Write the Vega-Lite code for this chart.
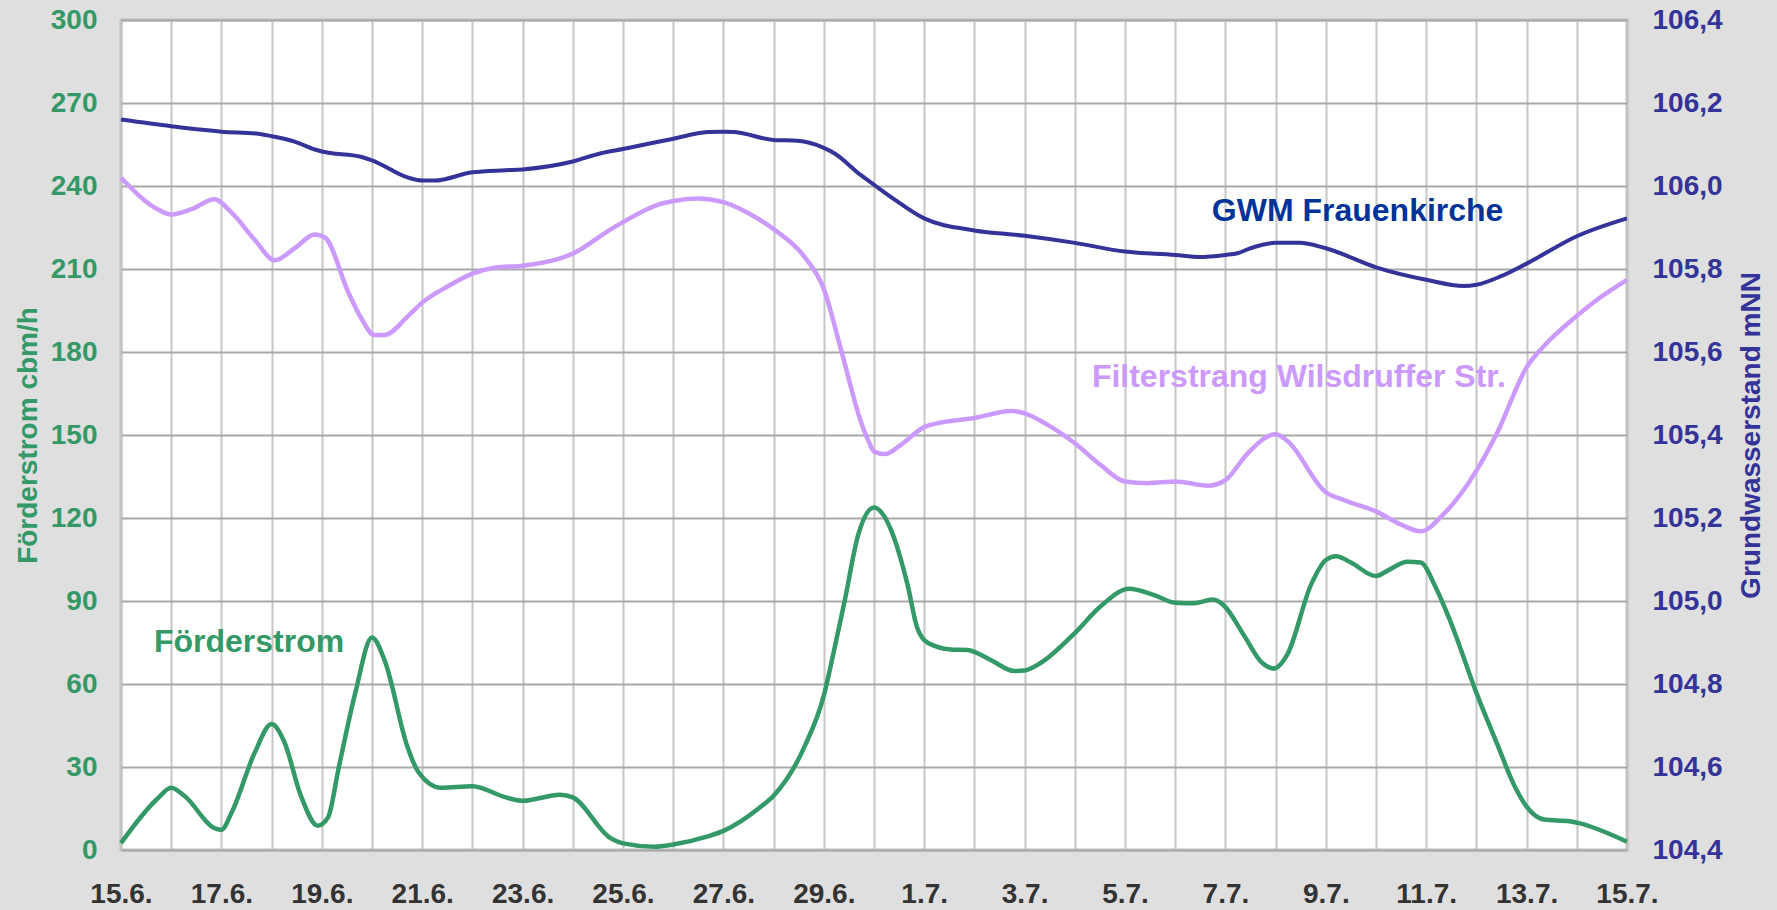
{
  "$schema": "https://vega.github.io/schema/vega-lite/v6.json",
  "width": 1506,
  "height": 830,
  "autosize": {"type": "none"},
  "padding": {"left": 121, "top": 20, "right": 150, "bottom": 60},
  "background": "#DFDFDF",
  "config": {
    "view": {"fill": "white", "stroke": "#C0C0C0", "strokeWidth": 3},
    "font": "Liberation Sans"
  },
  "datasets": {
    "series": [
      {"s": "F", "t": "2009-06-15T00:00", "v": 2.5},
      {"s": "F", "t": "2009-06-15T17:30", "v": 18.6},
      {"s": "F", "t": "2009-06-16T00:00", "v": 22.5},
      {"s": "F", "t": "2009-06-16T06:15", "v": 19.6},
      {"s": "F", "t": "2009-06-16T21:00", "v": 7.8},
      {"s": "F", "t": "2009-06-17T00:00", "v": 7.3},
      {"s": "F", "t": "2009-06-17T05:00", "v": 13.7},
      {"s": "F", "t": "2009-06-17T16:00", "v": 35.3},
      {"s": "F", "t": "2009-06-18T00:00", "v": 45.5},
      {"s": "F", "t": "2009-06-18T06:00", "v": 39.2},
      {"s": "F", "t": "2009-06-18T14:00", "v": 19.6},
      {"s": "F", "t": "2009-06-18T22:00", "v": 8.8},
      {"s": "F", "t": "2009-06-19T03:00", "v": 11.8},
      {"s": "F", "t": "2009-06-19T08:00", "v": 29.4},
      {"s": "F", "t": "2009-06-19T16:00", "v": 56.8},
      {"s": "F", "t": "2009-06-20T00:00", "v": 76.8},
      {"s": "F", "t": "2009-06-20T06:00", "v": 68.6},
      {"s": "F", "t": "2009-06-20T17:00", "v": 37.2},
      {"s": "F", "t": "2009-06-20T22:00", "v": 28.4},
      {"s": "F", "t": "2009-06-21T09:00", "v": 22.5},
      {"s": "F", "t": "2009-06-22T00:00", "v": 23.0},
      {"s": "F", "t": "2009-06-22T16:00", "v": 19.0},
      {"s": "F", "t": "2009-06-23T00:00", "v": 17.8},
      {"s": "F", "t": "2009-06-23T18:00", "v": 20.0},
      {"s": "F", "t": "2009-06-24T00:00", "v": 19.0},
      {"s": "F", "t": "2009-06-24T18:00", "v": 4.3},
      {"s": "F", "t": "2009-06-25T00:00", "v": 2.4},
      {"s": "F", "t": "2009-06-25T15:00", "v": 1.2},
      {"s": "F", "t": "2009-06-26T00:00", "v": 2.0},
      {"s": "F", "t": "2009-06-26T16:30", "v": 4.9},
      {"s": "F", "t": "2009-06-27T00:00", "v": 6.9},
      {"s": "F", "t": "2009-06-27T18:00", "v": 15.7},
      {"s": "F", "t": "2009-06-28T00:00", "v": 19.6},
      {"s": "F", "t": "2009-06-28T14:40", "v": 37.2},
      {"s": "F", "t": "2009-06-29T00:00", "v": 55.8},
      {"s": "F", "t": "2009-06-29T05:00", "v": 72.5},
      {"s": "F", "t": "2009-06-29T10:00", "v": 90.1},
      {"s": "F", "t": "2009-06-29T16:20", "v": 113.6},
      {"s": "F", "t": "2009-06-30T00:00", "v": 123.8},
      {"s": "F", "t": "2009-06-30T05:00", "v": 120.5},
      {"s": "F", "t": "2009-06-30T08:30", "v": 115.0},
      {"s": "F", "t": "2009-06-30T16:00", "v": 96.0},
      {"s": "F", "t": "2009-06-30T20:40", "v": 80.3},
      {"s": "F", "t": "2009-07-01T01:40", "v": 74.9},
      {"s": "F", "t": "2009-07-01T12:40", "v": 72.5},
      {"s": "F", "t": "2009-07-01T20:40", "v": 72.3},
      {"s": "F", "t": "2009-07-02T08:00", "v": 68.6},
      {"s": "F", "t": "2009-07-02T19:00", "v": 64.7},
      {"s": "F", "t": "2009-07-03T00:00", "v": 64.9},
      {"s": "F", "t": "2009-07-03T07:40", "v": 67.6},
      {"s": "F", "t": "2009-07-04T00:00", "v": 78.4},
      {"s": "F", "t": "2009-07-04T12:30", "v": 88.2},
      {"s": "F", "t": "2009-07-05T02:00", "v": 94.4},
      {"s": "F", "t": "2009-07-05T14:00", "v": 92.1},
      {"s": "F", "t": "2009-07-06T00:00", "v": 89.4},
      {"s": "F", "t": "2009-07-06T09:00", "v": 89.2},
      {"s": "F", "t": "2009-07-06T18:00", "v": 90.5},
      {"s": "F", "t": "2009-07-06T23:30", "v": 88.2},
      {"s": "F", "t": "2009-07-07T09:00", "v": 77.4},
      {"s": "F", "t": "2009-07-07T17:20", "v": 67.8},
      {"s": "F", "t": "2009-07-07T23:20", "v": 65.6},
      {"s": "F", "t": "2009-07-08T05:30", "v": 70.5},
      {"s": "F", "t": "2009-07-08T17:00", "v": 96.0},
      {"s": "F", "t": "2009-07-09T00:00", "v": 104.8},
      {"s": "F", "t": "2009-07-09T05:00", "v": 106.2},
      {"s": "F", "t": "2009-07-09T12:00", "v": 103.9},
      {"s": "F", "t": "2009-07-10T00:00", "v": 99.0},
      {"s": "F", "t": "2009-07-10T05:20", "v": 100.9},
      {"s": "F", "t": "2009-07-10T15:00", "v": 104.2},
      {"s": "F", "t": "2009-07-10T21:20", "v": 103.9},
      {"s": "F", "t": "2009-07-11T04:30", "v": 95.0},
      {"s": "F", "t": "2009-07-11T11:45", "v": 82.3},
      {"s": "F", "t": "2009-07-12T00:00", "v": 56.8},
      {"s": "F", "t": "2009-07-12T10:00", "v": 38.2},
      {"s": "F", "t": "2009-07-12T18:00", "v": 23.5},
      {"s": "F", "t": "2009-07-13T00:00", "v": 15.7},
      {"s": "F", "t": "2009-07-13T08:30", "v": 11.0},
      {"s": "F", "t": "2009-07-13T20:30", "v": 10.4},
      {"s": "F", "t": "2009-07-14T00:30", "v": 9.8},
      {"s": "F", "t": "2009-07-15T00:00", "v": 3.0},

      {"s": "G", "t": "2009-06-15T00:00", "v": 106.16},
      {"s": "G", "t": "2009-06-16T00:00", "v": 106.144},
      {"s": "G", "t": "2009-06-17T00:00", "v": 106.131},
      {"s": "G", "t": "2009-06-17T17:30", "v": 106.126},
      {"s": "G", "t": "2009-06-18T00:00", "v": 106.12},
      {"s": "G", "t": "2009-06-18T11:00", "v": 106.107},
      {"s": "G", "t": "2009-06-18T20:40", "v": 106.088},
      {"s": "G", "t": "2009-06-19T00:00", "v": 106.083},
      {"s": "G", "t": "2009-06-19T19:00", "v": 106.07},
      {"s": "G", "t": "2009-06-20T00:00", "v": 106.062},
      {"s": "G", "t": "2009-06-20T17:20", "v": 106.02},
      {"s": "G", "t": "2009-06-21T00:00", "v": 106.013},
      {"s": "G", "t": "2009-06-21T06:00", "v": 106.013},
      {"s": "G", "t": "2009-06-22T00:00", "v": 106.033},
      {"s": "G", "t": "2009-06-22T15:40", "v": 106.038},
      {"s": "G", "t": "2009-06-23T00:00", "v": 106.04},
      {"s": "G", "t": "2009-06-24T00:00", "v": 106.059},
      {"s": "G", "t": "2009-06-24T13:30", "v": 106.079},
      {"s": "G", "t": "2009-06-25T00:00", "v": 106.089},
      {"s": "G", "t": "2009-06-26T00:00", "v": 106.114},
      {"s": "G", "t": "2009-06-26T16:30", "v": 106.13},
      {"s": "G", "t": "2009-06-27T00:00", "v": 106.131},
      {"s": "G", "t": "2009-06-27T05:20", "v": 106.13},
      {"s": "G", "t": "2009-06-28T00:00", "v": 106.111},
      {"s": "G", "t": "2009-06-28T11:30", "v": 106.109},
      {"s": "G", "t": "2009-06-29T00:00", "v": 106.092},
      {"s": "G", "t": "2009-06-29T05:00", "v": 106.079},
      {"s": "G", "t": "2009-06-29T17:45", "v": 106.026},
      {"s": "G", "t": "2009-06-30T00:00", "v": 106.003},
      {"s": "G", "t": "2009-06-30T09:40", "v": 105.968},
      {"s": "G", "t": "2009-07-01T00:00", "v": 105.922},
      {"s": "G", "t": "2009-07-02T00:00", "v": 105.893},
      {"s": "G", "t": "2009-07-03T00:00", "v": 105.88},
      {"s": "G", "t": "2009-07-04T00:00", "v": 105.863},
      {"s": "G", "t": "2009-07-05T00:00", "v": 105.842},
      {"s": "G", "t": "2009-07-06T00:00", "v": 105.834},
      {"s": "G", "t": "2009-07-06T11:30", "v": 105.829},
      {"s": "G", "t": "2009-07-07T00:00", "v": 105.834},
      {"s": "G", "t": "2009-07-07T05:45", "v": 105.838},
      {"s": "G", "t": "2009-07-07T12:00", "v": 105.85},
      {"s": "G", "t": "2009-07-08T00:00", "v": 105.863},
      {"s": "G", "t": "2009-07-08T11:15", "v": 105.863},
      {"s": "G", "t": "2009-07-09T00:00", "v": 105.85},
      {"s": "G", "t": "2009-07-10T00:00", "v": 105.804},
      {"s": "G", "t": "2009-07-11T00:00", "v": 105.774},
      {"s": "G", "t": "2009-07-11T18:00", "v": 105.759},
      {"s": "G", "t": "2009-07-12T00:00", "v": 105.762},
      {"s": "G", "t": "2009-07-12T11:30", "v": 105.782},
      {"s": "G", "t": "2009-07-13T00:00", "v": 105.813},
      {"s": "G", "t": "2009-07-14T00:00", "v": 105.879},
      {"s": "G", "t": "2009-07-15T00:00", "v": 105.922},

      {"s": "W", "t": "2009-06-15T00:00", "v": 106.02},
      {"s": "W", "t": "2009-06-15T17:30", "v": 105.944},
      {"s": "W", "t": "2009-06-16T00:00", "v": 105.931},
      {"s": "W", "t": "2009-06-16T09:40", "v": 105.944},
      {"s": "W", "t": "2009-06-16T20:40", "v": 105.968},
      {"s": "W", "t": "2009-06-17T05:00", "v": 105.935},
      {"s": "W", "t": "2009-06-17T16:00", "v": 105.87},
      {"s": "W", "t": "2009-06-18T01:30", "v": 105.821},
      {"s": "W", "t": "2009-06-18T11:00", "v": 105.85},
      {"s": "W", "t": "2009-06-18T20:40", "v": 105.883},
      {"s": "W", "t": "2009-06-19T01:30", "v": 105.876},
      {"s": "W", "t": "2009-06-19T12:30", "v": 105.746},
      {"s": "W", "t": "2009-06-19T19:00", "v": 105.68},
      {"s": "W", "t": "2009-06-20T01:10", "v": 105.641},
      {"s": "W", "t": "2009-06-20T06:00", "v": 105.641},
      {"s": "W", "t": "2009-06-20T17:20", "v": 105.687},
      {"s": "W", "t": "2009-06-21T00:00", "v": 105.719},
      {"s": "W", "t": "2009-06-21T12:30", "v": 105.759},
      {"s": "W", "t": "2009-06-22T00:00", "v": 105.789},
      {"s": "W", "t": "2009-06-22T10:30", "v": 105.803},
      {"s": "W", "t": "2009-06-23T00:00", "v": 105.808},
      {"s": "W", "t": "2009-06-23T16:50", "v": 105.824},
      {"s": "W", "t": "2009-06-24T00:00", "v": 105.837},
      {"s": "W", "t": "2009-06-24T18:15", "v": 105.896},
      {"s": "W", "t": "2009-06-25T00:00", "v": 105.913},
      {"s": "W", "t": "2009-06-25T18:00", "v": 105.957},
      {"s": "W", "t": "2009-06-26T00:00", "v": 105.964},
      {"s": "W", "t": "2009-06-26T11:45", "v": 105.97},
      {"s": "W", "t": "2009-06-27T00:00", "v": 105.961},
      {"s": "W", "t": "2009-06-27T11:45", "v": 105.935},
      {"s": "W", "t": "2009-06-28T00:00", "v": 105.896},
      {"s": "W", "t": "2009-06-28T14:40", "v": 105.83},
      {"s": "W", "t": "2009-06-29T00:00", "v": 105.752},
      {"s": "W", "t": "2009-06-29T08:25", "v": 105.602},
      {"s": "W", "t": "2009-06-29T17:45", "v": 105.432},
      {"s": "W", "t": "2009-06-29T21:50", "v": 105.38},
      {"s": "W", "t": "2009-06-30T00:00", "v": 105.36},
      {"s": "W", "t": "2009-06-30T05:30", "v": 105.354},
      {"s": "W", "t": "2009-06-30T12:00", "v": 105.373},
      {"s": "W", "t": "2009-07-01T00:00", "v": 105.419},
      {"s": "W", "t": "2009-07-01T08:00", "v": 105.43},
      {"s": "W", "t": "2009-07-02T00:00", "v": 105.441},
      {"s": "W", "t": "2009-07-02T17:30", "v": 105.458},
      {"s": "W", "t": "2009-07-03T00:00", "v": 105.452},
      {"s": "W", "t": "2009-07-03T10:50", "v": 105.425},
      {"s": "W", "t": "2009-07-04T00:00", "v": 105.38},
      {"s": "W", "t": "2009-07-04T12:30", "v": 105.327},
      {"s": "W", "t": "2009-07-05T00:00", "v": 105.288},
      {"s": "W", "t": "2009-07-05T10:50", "v": 105.284},
      {"s": "W", "t": "2009-07-06T00:00", "v": 105.288},
      {"s": "W", "t": "2009-07-06T15:40", "v": 105.278},
      {"s": "W", "t": "2009-07-07T00:00", "v": 105.291},
      {"s": "W", "t": "2009-07-07T10:20", "v": 105.354},
      {"s": "W", "t": "2009-07-08T00:00", "v": 105.402},
      {"s": "W", "t": "2009-07-08T05:30", "v": 105.386},
      {"s": "W", "t": "2009-07-09T00:00", "v": 105.262},
      {"s": "W", "t": "2009-07-09T08:40", "v": 105.243},
      {"s": "W", "t": "2009-07-10T00:00", "v": 105.216},
      {"s": "W", "t": "2009-07-10T12:00", "v": 105.184},
      {"s": "W", "t": "2009-07-10T21:20", "v": 105.168},
      {"s": "W", "t": "2009-07-11T08:25", "v": 105.21},
      {"s": "W", "t": "2009-07-12T00:00", "v": 105.314},
      {"s": "W", "t": "2009-07-12T10:00", "v": 105.406},
      {"s": "W", "t": "2009-07-13T00:00", "v": 105.563},
      {"s": "W", "t": "2009-07-13T08:25", "v": 105.615},
      {"s": "W", "t": "2009-07-14T00:00", "v": 105.687},
      {"s": "W", "t": "2009-07-14T09:40", "v": 105.726},
      {"s": "W", "t": "2009-07-15T00:00", "v": 105.774}
    ],
    "notes": [
      {"k": "G", "t": "2009-07-06T17:30", "v": 105.916, "label": "GWM Frauenkirche"},
      {"k": "W", "t": "2009-07-04T08:10", "v": 105.516, "label": "Filterstrang Wilsdruffer Str."},
      {"k": "F", "t": "2009-06-15T15:46", "v": 71.6, "label": "Förderstrom"}
    ]
  },
  "encoding": {
    "x": {
      "field": "t",
      "type": "temporal",
      "scale": {
        "domain": [
          {"year": 2009, "month": 6, "date": 15},
          {"year": 2009, "month": 7, "date": 15}
        ],
        "nice": false
      },
      "axis": {
        "title": null,
        "tickCount": {"interval": "day", "step": 1},
        "labelExpr": "date(datum.value) % 2 == 1 ? timeFormat(datum.value, '%-d.%-m.') : ''",
        "labelOverlap": false,
        "labelFlush": false,
        "labelBound": false,
        "labelFont": "Liberation Sans",
        "labelFontSize": 28,
        "labelFontWeight": "bold",
        "labelColor": "#333333",
        "labelPadding": 30,
        "ticks": false,
        "tickSize": 0,
        "domain": false,
        "grid": true,
        "gridColor": "#C6C6C6",
        "gridWidth": 2
      }
    }
  },
  "layer": [
    {
      "encoding": {
        "y": {
          "field": "v",
          "type": "quantitative",
          "scale": {"domain": [0, 300], "nice": false, "zero": false},
          "axis": {
            "orient": "left",
            "title": "Förderstrom cbm/h",
            "titleFont": "Liberation Sans",
            "titleFontSize": 28,
            "titleFontWeight": "bold",
            "titleColor": "#339966",
            "titlePadding": 8,
            "values": [0, 30, 60, 90, 120, 150, 180, 210, 240, 270, 300],
            "labelFont": "Liberation Sans",
            "labelFontSize": 28,
            "labelFontWeight": "bold",
            "labelColor": "#339966",
            "labelPadding": 24,
            "ticks": false,
            "tickSize": 0,
            "domain": false,
            "grid": true,
            "gridColor": "#A8A8A8",
            "gridWidth": 2
          }
        }
      },
      "layer": [
        {
          "data": {"name": "series"},
          "transform": [{"filter": "datum.s == 'F'"}],
          "mark": {"type": "line", "color": "#339966", "strokeWidth": 4.5, "interpolate": "monotone"}
        },
        {
          "data": {"name": "notes"},
          "transform": [{"filter": "datum.k == 'F'"}],
          "mark": {"type": "text", "align": "left", "baseline": "alphabetic", "font": "Liberation Sans", "fontSize": 32, "fontWeight": "bold", "color": "#339966"},
          "encoding": {"text": {"field": "label"}}
        }
      ]
    },
    {
      "encoding": {
        "y": {
          "field": "v",
          "type": "quantitative",
          "scale": {"domain": [104.4, 106.4], "nice": false, "zero": false},
          "axis": {
            "orient": "right",
            "title": "Grundwasserstand mNN",
            "titleFont": "Liberation Sans",
            "titleFontSize": 28,
            "titleFontWeight": "bold",
            "titleColor": "#333399",
            "titleAngle": 270,
            "titleBaseline": "top",
            "titlePadding": 15,
            "values": [104.4, 104.6, 104.8, 105.0, 105.2, 105.4, 105.6, 105.8, 106.0, 106.2, 106.4],
            "labelExpr": "replace(format(datum.value, '.1f'), '.', ',')",
            "labelFont": "Liberation Sans",
            "labelFontSize": 28,
            "labelFontWeight": "bold",
            "labelColor": "#333399",
            "labelPadding": 25,
            "ticks": false,
            "tickSize": 0,
            "domain": false,
            "grid": false
          }
        }
      },
      "layer": [
        {
          "data": {"name": "series"},
          "transform": [{"filter": "datum.s == 'W'"}],
          "mark": {"type": "line", "color": "#CC99FF", "strokeWidth": 4.5, "interpolate": "monotone"}
        },
        {
          "data": {"name": "series"},
          "transform": [{"filter": "datum.s == 'G'"}],
          "mark": {"type": "line", "color": "#333399", "strokeWidth": 4, "interpolate": "monotone"}
        },
        {
          "data": {"name": "notes"},
          "transform": [{"filter": "datum.k == 'G'"}],
          "mark": {"type": "text", "align": "left", "baseline": "alphabetic", "font": "Liberation Sans", "fontSize": 32, "fontWeight": "bold", "color": "#003399"},
          "encoding": {"text": {"field": "label"}}
        },
        {
          "data": {"name": "notes"},
          "transform": [{"filter": "datum.k == 'W'"}],
          "mark": {"type": "text", "align": "left", "baseline": "alphabetic", "font": "Liberation Sans", "fontSize": 32, "fontWeight": "bold", "color": "#CC99FF"},
          "encoding": {"text": {"field": "label"}}
        }
      ]
    }
  ],
  "resolve": {"scale": {"y": "independent"}}
}
